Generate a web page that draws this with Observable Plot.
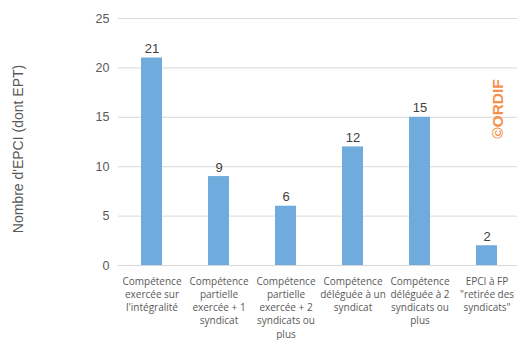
<!DOCTYPE html>
<html>
<head>
<meta charset="utf-8">
<script src="https://cdn.jsdelivr.net/npm/d3@7"></script>
<script src="https://cdn.jsdelivr.net/npm/@observablehq/plot@0.6"></script>
<style>
  html, body { margin: 0; padding: 0; background: #fff; }
  #chart svg { display: block; }
</style>
</head>
<body>
<div id="chart"></div>
<script>
const categories = [
  "Compétence\nexercée sur\nl'intégralité",
  "Compétence\npartielle\nexercée + 1\nsyndicat",
  "Compétence\npartielle\nexercée + 2\nsyndicats ou\nplus",
  "Compétence\ndéléguée à un\nsyndicat",
  "Compétence\ndéléguée à 2\nsyndicats ou\nplus",
  "EPCI à FP\n\"retirée des\nsyndicats\""
];
const values = [21, 9, 6, 12, 15, 2];
const yTicks = [0, 5, 10, 15, 20, 25];
const yTitle = "Nombre d'EPCI (dont EPT)";
const watermark = "©ORDIF";

const data = categories.map((c, i) => ({category: c, value: values[i]}));

const chart = Plot.plot({
  width: 517,
  height: 340,
  marginLeft: 118,
  marginRight: 0,
  marginTop: 18,
  marginBottom: 75,
  style: {fontFamily: "'Liberation Sans', Arial, sans-serif", background: "#fff"},
  x: {domain: categories, range: [116, 521], paddingInner: 0.69, paddingOuter: 0.345, align: 0.5},
  y: {domain: [0, 25], ticks: yTicks},
  marks: [
    Plot.gridY(yTicks, {stroke: "#d9d9d9", strokeOpacity: 1, strokeWidth: 1}),
    Plot.axisY({ticks: yTicks, tickSize: 0, tickPadding: 9, label: null, fontSize: 12.5, color: "#595959"}),
    Plot.axisX({tickSize: 0, tickPadding: 10, label: null, fontSize: 10, fontFamily: "'Open Sans', sans-serif", lineHeight: 1.32, color: "#595959"}),
    Plot.barY(data, {x: "category", y: "value", fill: "#6fabdc"}),
    Plot.text(data, {x: "category", y: "value", text: d => String(d.value), lineAnchor: "bottom", dy: -5, fontSize: 13, fill: "#404040"}),
    Plot.text([yTitle], {text: d => d, frameAnchor: "left", textAnchor: "middle", rotate: -90, dx: -100, dy: 7, fontSize: 14, fill: "#595959"}),
    Plot.text([watermark], {text: d => d, frameAnchor: "right", textAnchor: "middle", rotate: -90, dx: -19.5, dy: -33, fontSize: 15.5, fontWeight: "bold", fill: "#f6914a"})
  ]
});
document.getElementById("chart").appendChild(chart);
</script>
</body>
</html>
